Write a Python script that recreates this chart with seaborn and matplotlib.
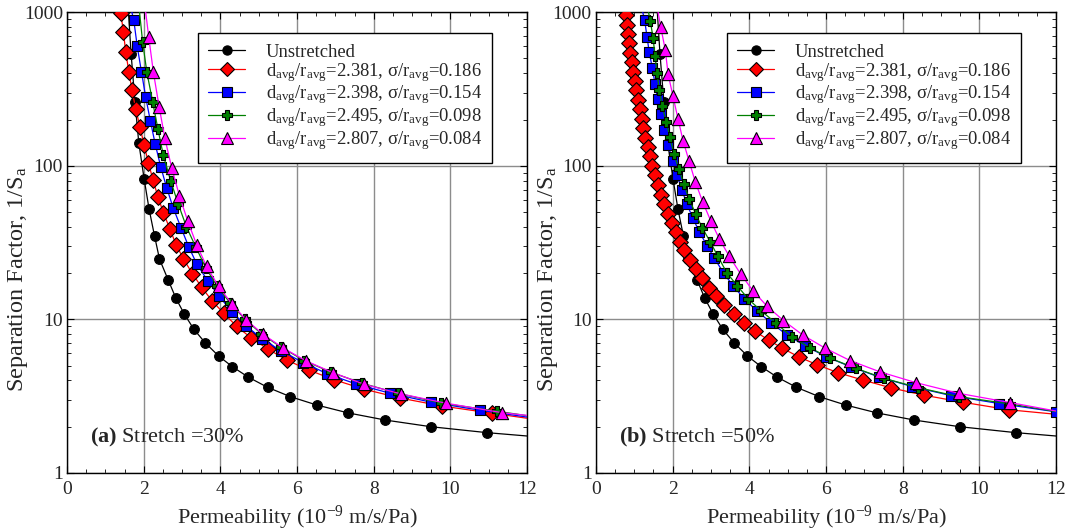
import numpy as np
import pandas as pd
import seaborn as sns
import matplotlib.pyplot as plt
from matplotlib.lines import Line2D
from matplotlib.ticker import MultipleLocator, LogLocator, NullFormatter, FixedFormatter, FixedLocator

sns.set_style('ticks')
plt.rcParams['font.family'] = ['Liberation Serif', 'DejaVu Serif']
plt.rcParams['mathtext.fontset'] = 'custom'
plt.rcParams['mathtext.rm'] = 'Liberation Serif'
plt.rcParams['mathtext.it'] = 'Liberation Serif:italic'
plt.rcParams['mathtext.bf'] = 'Liberation Serif:bold'

# ---- data ----
labels = ['Unstretched',
          r'd$_{\rm avg}$/r$_{\rm avg}$=2.381, σ/r$_{\rm avg}$=0.186',
          r'd$_{\rm avg}$/r$_{\rm avg}$=2.398, σ/r$_{\rm avg}$=0.154',
          r'd$_{\rm avg}$/r$_{\rm avg}$=2.495, σ/r$_{\rm avg}$=0.098',
          r'd$_{\rm avg}$/r$_{\rm avg}$=2.807, σ/r$_{\rm avg}$=0.084']
colors = ['black', 'red', 'blue', 'green', 'magenta']
markers = ['o', 'D', 's', 'P', '^']
msizes = [7, 8, 7.2, 7.8, 8.8]

unst_x = [1.67, 1.77, 1.87, 2.01, 2.14, 2.28, 2.41, 2.635, 2.84, 3.06, 3.31, 3.60, 3.95,
          4.31, 4.73, 5.23, 5.82, 6.51, 7.33, 8.30, 9.49, 10.95]
unst_y = [534, 262, 141, 82, 52, 35, 24.7, 18.1, 13.7, 10.8, 8.6, 7.05, 5.78,
          4.92, 4.20, 3.61, 3.14, 2.77, 2.46, 2.21, 2.00, 1.83]

# (a) stretch 30%
a_red_x = [1.40, 1.47, 1.53, 1.61, 1.69, 1.79, 1.90, 2.01, 2.12, 2.24, 2.37, 2.51, 2.68, 2.84,
           3.03, 3.27, 3.51, 3.78, 4.08, 4.42, 4.80, 5.24, 5.74, 6.31, 6.97, 7.75, 8.67, 9.77, 11.07]
a_red_y = [988, 738, 550, 411, 313, 235, 179, 136, 105, 81, 62.8, 49.6, 38.9, 30.7,
           24.9, 19.8, 16.2, 13.2, 11.0, 9.03, 7.57, 6.40, 5.42, 4.67, 4.04, 3.51, 3.08, 2.73, 2.45]
a_blue_x = [1.74, 1.83, 1.94, 2.05, 2.17, 2.30, 2.44, 2.60, 2.77, 2.97, 3.17, 3.38, 3.67, 3.97,
            4.30, 4.67, 5.09, 5.58, 6.16, 6.79, 7.53, 8.43, 9.49, 10.77]
a_blue_y = [885, 599, 408, 280, 197, 138, 98.9, 71.6, 53, 39.6, 29.8, 23, 17.8, 14.1,
            11.2, 9.07, 7.46, 6.24, 5.23, 4.42, 3.80, 3.30, 2.89, 2.56]
a_green_x = [1.97, 2.08, 2.23, 2.37, 2.51, 2.70, 2.90, 3.11, 3.35, 3.62, 3.91, 4.25, 4.64,
             5.07, 5.58, 6.19, 6.88, 7.69, 8.63, 9.76, 11.22]
a_green_y = [640, 408, 262, 173, 117, 80, 56.3, 40.2, 29.8, 21.6, 16.5, 12.8, 10.0,
             8.05, 6.59, 5.39, 4.53, 3.84, 3.30, 2.85, 2.52]
a_mag_x = [2.13, 2.25, 2.40, 2.55, 2.73, 2.93, 3.15, 3.38, 3.64, 3.95, 4.30, 4.67, 5.11,
           5.63, 6.23, 6.93, 7.75, 8.71, 9.87, 11.34]
a_mag_y = [689, 408, 243, 151, 96.6, 63.8, 43.4, 30.6, 22.1, 16.4, 12.6, 9.93, 8.01,
           6.52, 5.37, 4.50, 3.78, 3.27, 2.85, 2.47]
# where each curve leaves the top (y=1000) and where it ends at x=12
a_top_x = [1.60, 1.36, 1.69, 1.89, 2.05]
a_end_y = [1.74, 2.27, 2.31, 2.36, 2.37]

# (b) stretch 50%
b_red_x = [0.78, 0.81, 0.83, 0.86, 0.89, 0.93, 0.97, 1.01, 1.05, 1.10, 1.14, 1.19, 1.23, 1.29,
           1.35, 1.40, 1.47, 1.54, 1.61, 1.70, 1.78, 1.88, 1.97, 2.08, 2.18, 2.30, 2.44, 2.60,
           2.77, 2.95, 3.13, 3.35, 3.60, 3.86, 4.14, 4.50, 4.86, 5.29, 5.77, 6.31, 6.97, 7.70,
           8.55, 9.56, 10.76]
b_red_y = [953, 829, 721, 626, 545, 474, 411, 358, 310, 269, 234, 202, 175, 152,
           132, 115, 100, 86.5, 75.2, 65, 56.5, 48.9, 42.5, 37, 32, 28.1, 24.4, 21.2,
           18.6, 16.1, 14.1, 12.4, 10.8, 9.53, 8.38, 7.35, 6.49, 5.70, 5.06, 4.50, 4.02, 3.58,
           3.21, 2.89, 2.58]
b_blue_x = [1.27, 1.33, 1.39, 1.47, 1.54, 1.61, 1.70, 1.78, 1.88, 2.00, 2.12, 2.24, 2.37, 2.53,
            2.70, 2.90, 3.09, 3.33, 3.58, 3.87, 4.19, 4.57, 4.97, 5.46, 6.00, 6.64, 7.38, 8.25,
            9.26, 10.52, 12.0]
b_blue_y = [885, 695, 547, 433, 342, 272, 217, 170, 136, 108, 87, 69.8, 56.5, 45.4,
            37, 30.1, 25, 20, 16.5, 13.6, 11.4, 9.49, 7.96, 6.72, 5.72, 4.92, 4.22, 3.65,
            3.19, 2.83, 2.50]
b_green_x = [1.42, 1.49, 1.54, 1.59, 1.65, 1.73, 1.83, 1.93, 2.03, 2.16, 2.29, 2.43, 2.60, 2.77,
             2.98, 3.18, 3.42, 3.69, 3.97, 4.30, 4.69, 5.10, 5.57, 6.11, 6.77, 7.50, 8.41,
             9.46, 10.81]
b_green_y = [871, 679, 521, 405, 313, 246, 193, 153, 120, 95.6, 76, 60.7, 48.7, 39.5,
             32, 25.7, 20, 16.5, 13.6, 11.4, 9.49, 7.70, 6.55, 5.58, 4.81, 4.14, 3.59,
             3.14, 2.81]
b_mag_x = [1.69, 1.81, 1.88, 2.01, 2.14, 2.27, 2.43, 2.59, 2.78, 2.99, 3.22, 3.48, 3.77, 4.09,
           4.46, 4.89, 5.40, 5.98, 6.63, 7.41, 8.35, 9.46, 10.81]
b_mag_y = [800, 564, 397, 283, 202, 146, 107, 78.7, 58.5, 44, 33.3, 25.7, 19.8, 15.4,
           12.2, 9.82, 7.89, 6.49, 5.39, 4.55, 3.87, 3.30, 2.87]
b_top_x = [1.60, 0.76, 1.22, 1.37, 1.62]
b_end_y = [1.74, 2.41, 2.50, 2.51, 2.53]

panels = [
    (r'$\mathbf{(a)}$ Stretch =30%', [(unst_x, unst_y), (a_red_x, a_red_y), (a_blue_x, a_blue_y),
                                     (a_green_x, a_green_y), (a_mag_x, a_mag_y)], a_top_x, a_end_y),
    (r'$\mathbf{(b)}$ Stretch =50%', [(unst_x, unst_y), (b_red_x, b_red_y), (b_blue_x, b_blue_y),
                                     (b_green_x, b_green_y), (b_mag_x, b_mag_y)], b_top_x, b_end_y),
]

fig = plt.figure(figsize=(10.65, 5.32), dpi=100)
ax_boxes = [[0.063, 0.111, 0.432, 0.866], [0.5596, 0.111, 0.432, 0.866]]
ylab_x = [-0.08, -0.078]

for (text, series, top_x, end_y), box, lx in zip(panels, ax_boxes, ylab_x):
    ax = fig.add_axes(box)
    for i, (xs, ys) in enumerate(series):
        # curve: from the top edge through the points to x=12
        cx = [top_x[i]] + list(xs)
        cy = [1000] + list(ys)
        if cx[-1] < 12:
            cx.append(12)
            cy.append(end_y[i])
        curve = pd.DataFrame({'x': cx, 'y': cy})
        sns.lineplot(data=curve, x='x', y='y', sort=False, color=colors[i], lw=0.9,
                     ax=ax, zorder=2 + i)
        pts = pd.DataFrame({'x': xs, 'y': ys})
        sns.scatterplot(data=pts, x='x', y='y', marker=markers[i], s=msizes[i] ** 2,
                        color=colors[i], edgecolor='black', linewidth=0.8,
                        ax=ax, zorder=3 + i)

    ax.set_yscale('log')
    ax.set_xlim(0, 12)
    ax.set_ylim(1, 1000)
    ax.xaxis.set_major_locator(MultipleLocator(2))
    ax.xaxis.set_minor_locator(MultipleLocator(0.5))
    ax.yaxis.set_major_locator(FixedLocator([1, 10, 100, 1000]))
    ax.yaxis.set_major_formatter(FixedFormatter(['1', '10', '100', '1000']))
    ax.yaxis.set_minor_locator(LogLocator(base=10, subs=np.arange(2, 10)))
    ax.yaxis.set_minor_formatter(NullFormatter())
    ax.grid(True, which='major', color='#8c8c8c', lw=1.0, zorder=0)
    ax.tick_params(which='both', direction='in', top=True, right=True, color='black')
    ax.tick_params(which='major', length=5, labelsize=14, pad=3)
    ax.tick_params(axis='x', which='major', pad=6)
    ax.tick_params(which='minor', length=3)
    for sp in ax.spines.values():
        sp.set_color('black')
        sp.set_linewidth(1.0)
    ax.set_xlabel(r'Permeability (10$^{-9}$ m/s/Pa)', fontsize=16, labelpad=4)
    ax.set_ylabel(r'Separation Factor, 1/S$_{\rm a}$', fontsize=17.5)
    ax.yaxis.set_label_coords(lx, 0.42)

    ax.text(0.05, 0.076, text, transform=ax.transAxes, fontsize=16,
            va='center', ha='left', zorder=10)

    handles = [Line2D([], [], color=colors[i], marker=markers[i], markersize=msizes[i] * 0.95,
                      markerfacecolor=colors[i], markeredgecolor='black',
                      markeredgewidth=0.8, lw=0.9) for i in range(5)]
    leg = ax.legend(handles, labels, loc='upper right', bbox_to_anchor=(0.924, 0.954),
                    borderaxespad=0, fontsize=13.4, frameon=True, fancybox=False,
                    framealpha=1, edgecolor='black', handlelength=2.0, handletextpad=1.1,
                    labelspacing=0.0, borderpad=0.55)
    leg.get_frame().set_linewidth(1.0)
    leg.set_zorder(20)

fig.savefig('out.png', dpi=100)
